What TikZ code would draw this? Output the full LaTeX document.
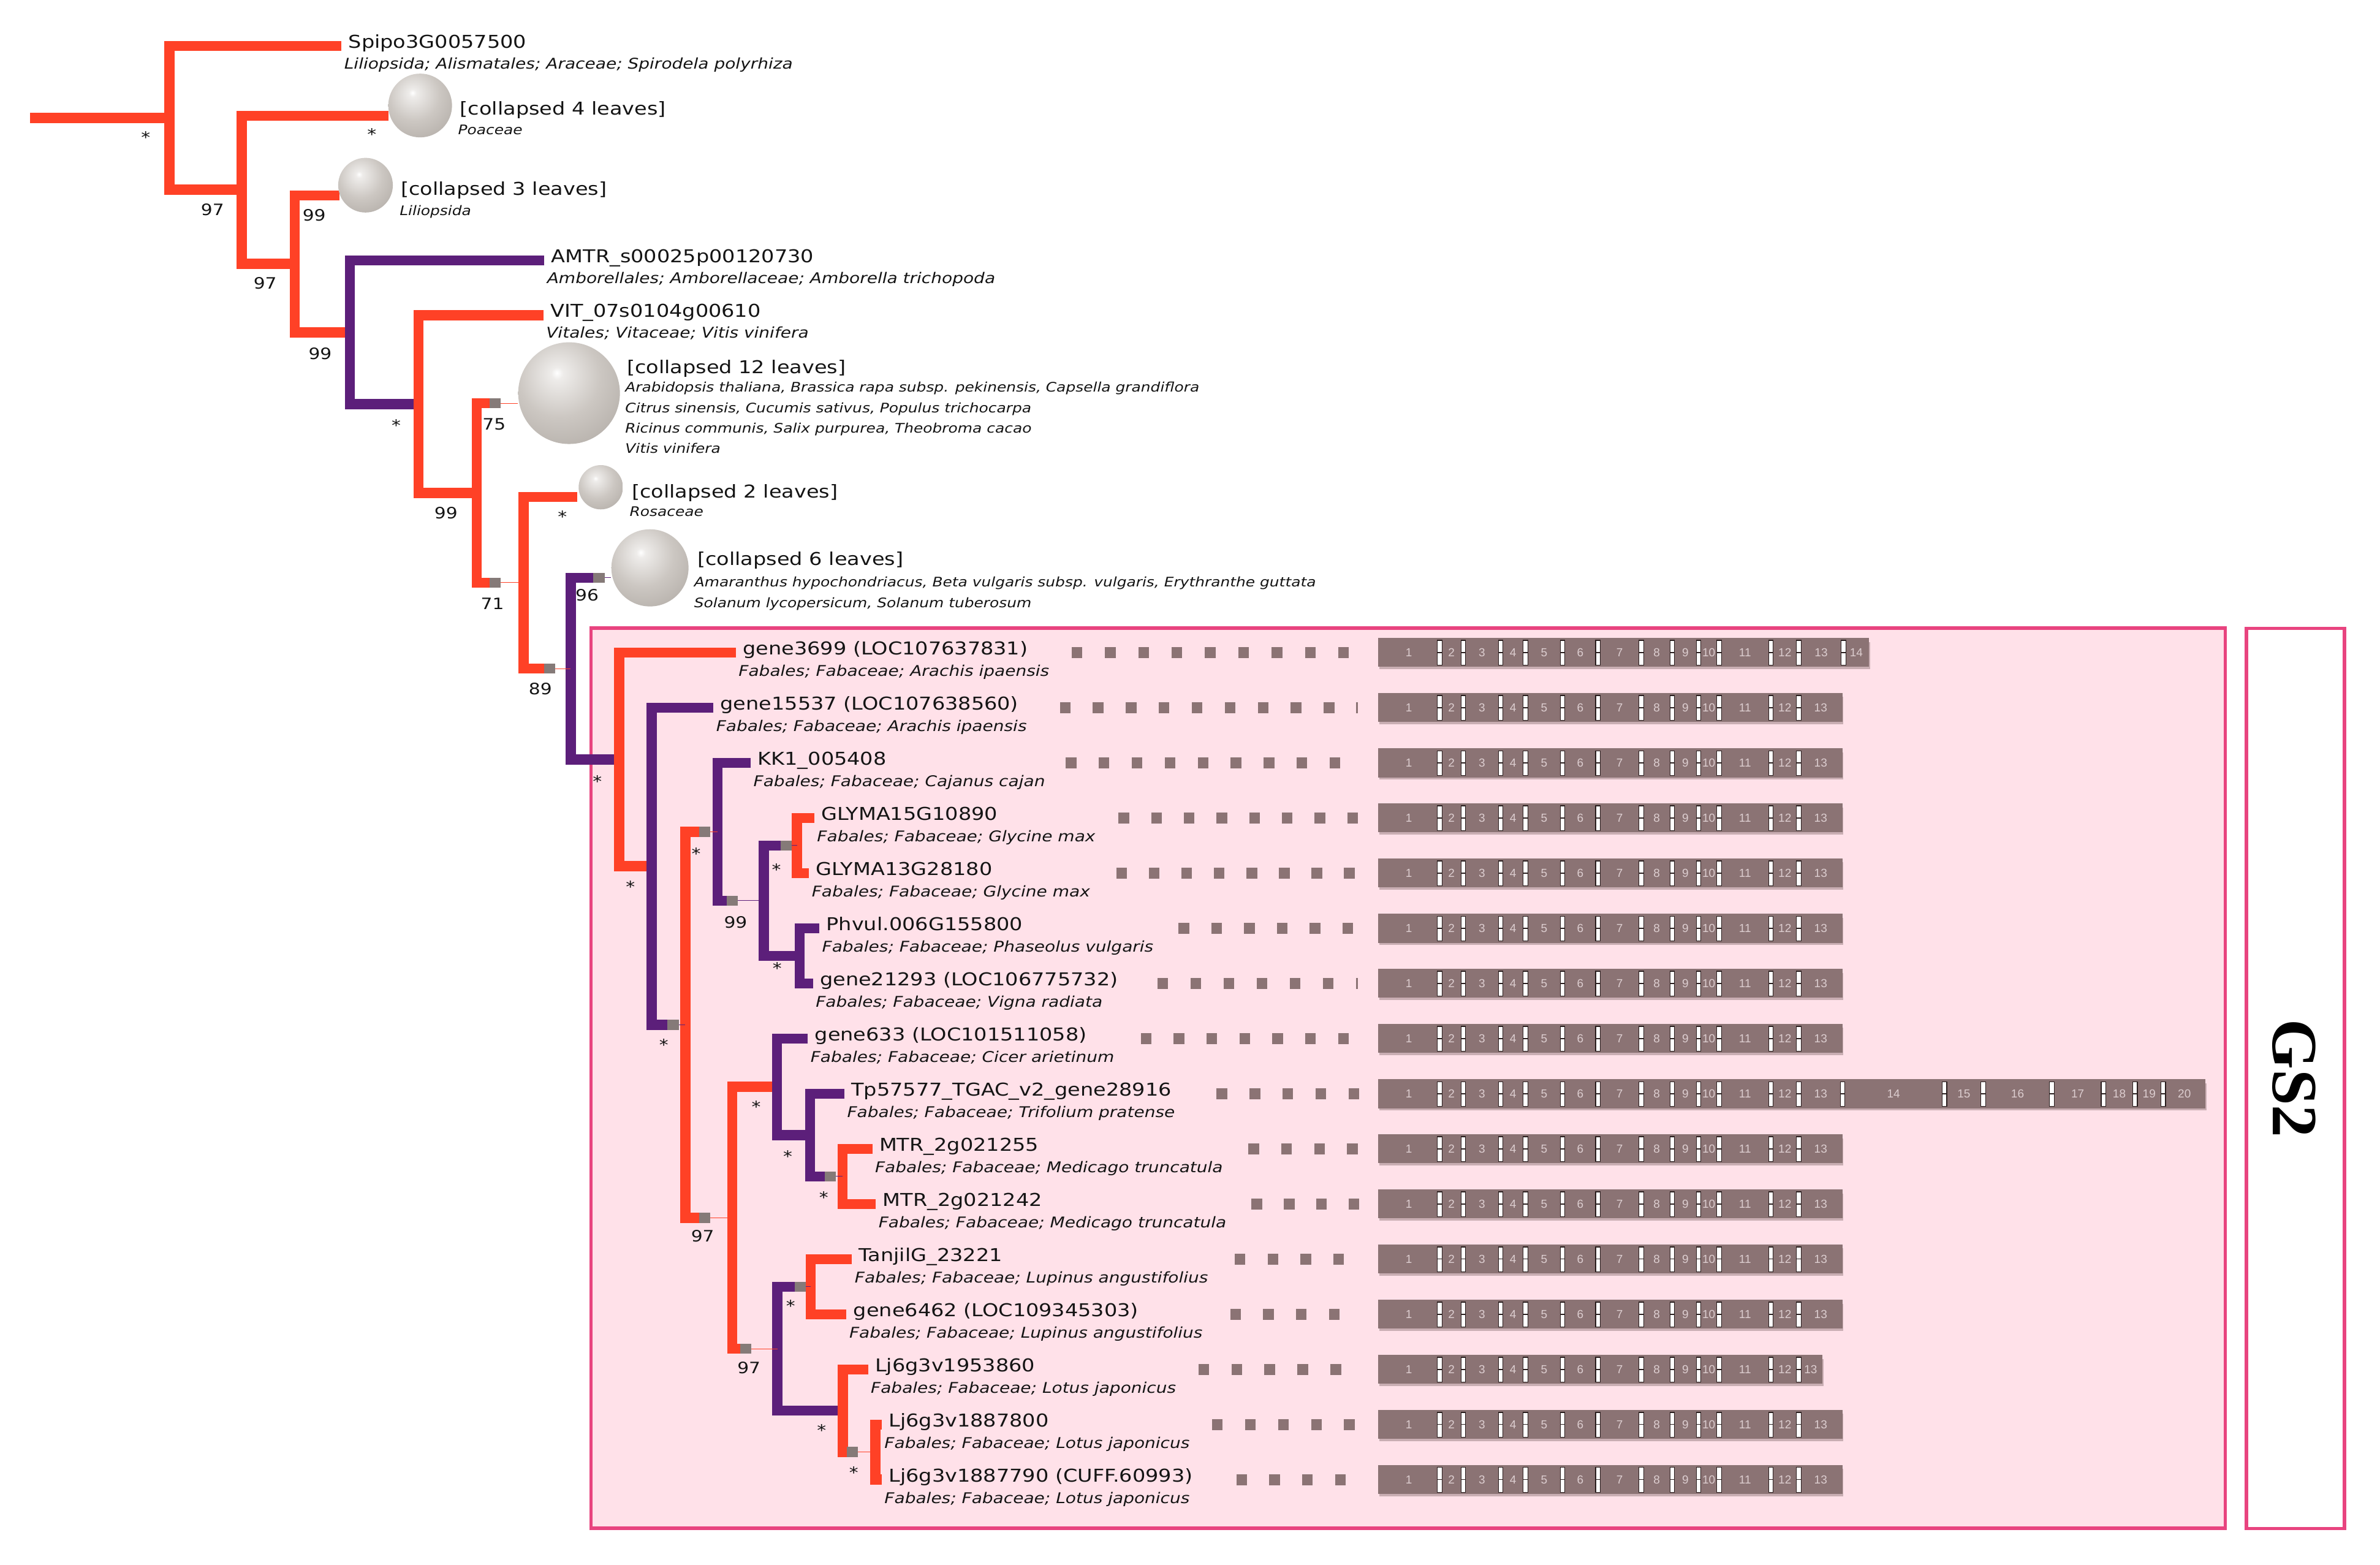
\documentclass[tikz,border=0pt]{standalone}
\usepackage{fontspec}
\setmainfont{DejaVu Sans}
\newfontfamily\namefont{DejaVu Sans}[FakeStretch=1.16]
\newfontfamily\spfont{DejaVu Sans Oblique}[FakeStretch=1.16]
\newfontfamily\gsfont{Liberation Serif Bold}
\newfontfamily\exfont{Liberation Sans}
\definecolor{brred}{HTML}{FF4126}
\definecolor{brpur}{HTML}{5C1F7A}
\definecolor{gend}{HTML}{857A78}
\definecolor{pinkfill}{HTML}{FFE1E9}
\definecolor{pinkline}{HTML}{E8447F}
\definecolor{barc}{HTML}{8B7374}
\definecolor{barsh}{HTML}{C9AEB3}
\definecolor{exnum}{HTML}{DCCDCF}
\definecolor{sepc}{HTML}{2A1E1E}
\definecolor{sphc}{RGB}{168,162,156}
\definecolor{sphm}{RGB}{204,199,194}
\definecolor{sphl}{RGB}{238,236,234}
\definecolor{txt}{HTML}{141414}
\pgfdeclareradialshading{sphere}{\pgfpoint{-6bp}{10bp}}{color(0bp)=(white); color(3bp)=(sphl); color(20bp)=(sphm); color(46bp)=(sphc); color(100bp)=(sphc)}
\newcommand{\dotrow}[4]{\foreach \k in {1,...,#4}{\fill[barc] ({#2+(\k-1)*#3-3.5},{#1-3.7}) rectangle ({#2+(\k-1)*#3+3.5},{#1+3.7});}}
\newcommand{\genebar}[4]{%
  \fill[barsh] (908.6,{#2-7}) rectangle ({#3+0.6},{#2+11});
  \fill[barc] (907.8,{#2-9.5}) rectangle (#3,{#2+9.5});
  \foreach \sv [remember=\sv as \pv (initially 907.8), count=\ix] in {948.5,964.0,988.6,1005.0,1029.5,1052.7,1081.3,1101.7,1119.0,1132.6,1166.7,1185.1,#4#3}{%
    \pgfmathtruncatemacro{\issep}{\sv<(#3-0.5)}%
    \ifnum\issep=1
      \filldraw[sepbox] ({\sv-1.5},{#2-8}) rectangle ({\sv+1.5},{#2+8.3});
      \draw[sepline] ({\sv-1.5},#2) -- ({\sv+1.5},#2);
    \fi
    \node[exn] (#1-\ix) at ({(\pv+\sv)/2},#2) {\ix};
  }%
}
\begin{document}
\begin{tikzpicture}[x=0.6pt,y=-0.6pt,
  brR/.style={draw=brred, line width=4pt, line join=miter, line cap=butt},
  brP/.style={draw=brpur, line width=4pt, line join=miter, line cap=butt},
  thinR/.style={draw=brred, line width=0.25pt},
  thinP/.style={draw=brpur, line width=0.25pt},
  sph/.style={circle, inner sep=0pt, shade, shading=sphere},
  lname/.style={anchor=base west, inner sep=0pt, text=txt, font=\namefont\fontsize{7}{8}\selectfont},
  lsp/.style={anchor=base west, inner sep=0pt, text=txt, font=\spfont\fontsize{5.85}{7}\selectfont},
  csp/.style={anchor=base west, inner sep=0pt, text=txt, font=\spfont\fontsize{5.2}{6}\selectfont},
  bs/.style={inner sep=0pt, text=txt, font=\namefont\fontsize{6.2}{7}\selectfont},
  exn/.style={inner sep=0pt, text=exnum, font=\exfont\fontsize{4.6}{5}\selectfont},
  sepbox/.style={fill=white, draw=sepc, line width=0.3pt},
  sepline/.style={draw=sepc, line width=0.35pt},
  gsbox/.style={draw=pinkline, line width=1.3pt}]
\useasboundingbox (0,0) rectangle (1568,1030.7);
\fill[white] (0,0) rectangle (1568,1030.7);
% boxes
\filldraw[gsbox, fill=pinkfill] (389.3,413.8) rectangle (1466,1006.8);
\filldraw[gsbox, fill=white] (1480,414) rectangle (1544.5,1007);
\node[rotate=-90, inner sep=0pt, font=\gsfont\fontsize{25.5}{26}\selectfont] (gs2) at (1511.5,710.5) {GS2};
% internal nodes
\coordinate (root) at (19.8,77.65);
\coordinate (n1) at (111.7,77.65);
\coordinate (n2) at (159.3,125);
\coordinate (n3) at (194.2,173.8);
\coordinate (n4) at (230.6,218.9);
\coordinate (n5) at (275.8,266.2);
\coordinate (n6) at (314,324.8);
\coordinate (n7) at (345,383.9);
\coordinate (n8) at (376,440.45);
\coordinate (n9) at (408,500.3);
\coordinate (n10) at (429.4,570.7);
\coordinate (n11) at (451.5,675.15);
\coordinate (n12) at (472.8,548);
\coordinate (n13) at (503.3,593.4);
\coordinate (n14) at (525.1,557.05);
\coordinate (n15) at (526.8,629.75);
\coordinate (n16) at (482.4,802.3);
\coordinate (n17) at (511.8,716);
\coordinate (n18) at (533.6,747.8);
\coordinate (n19) at (555,775.05);
\coordinate (n20) at (512.1,888.6);
\coordinate (n21) at (534,847.7);
\coordinate (n22) at (555.2,929.4);
\coordinate (n23) at (576.7,956.65);
% leaf ends
\coordinate (e0) at (225,30.3);
\coordinate (ec4) at (256,76.2);
\coordinate (ec3) at (223.5,128.7);
\coordinate (ea) at (358.6,171.6);
\coordinate (ev) at (358,207.6);
\coordinate (ec12) at (330,265.7);
\coordinate (ec2) at (380.3,327.4);
\coordinate (ec6) at (398.3,380.6);
\coordinate (e1) at (484.8,429.9);
\coordinate (e2) at (470,466.2);
\coordinate (e3) at (494.6,502.6);
\coordinate (e4) at (536.5,538.9);
\coordinate (e5) at (533,575.2);
\coordinate (e6) at (539.8,611.6);
\coordinate (e7) at (535.6,647.9);
\coordinate (e8) at (532.2,684.2);
\coordinate (e9) at (556.3,720.6);
\coordinate (e10) at (574.7,756.9);
\coordinate (e11) at (577,793.2);
\coordinate (e12) at (561.3,829.5);
\coordinate (e13) at (557.7,865.9);
\coordinate (e14) at (571.9,902.2);
\coordinate (e15) at (580.9,938.5);
\coordinate (e16) at (580.9,974.8);
% grey ends of inner branches
\coordinate (g7) at (330,383.9);
\coordinate (g8) at (365.9,440.45);
\coordinate (g11) at (447.2,675.15);
\coordinate (g12) at (467.9,548);
\coordinate (g16) at (467.9,802.3);
\coordinate (g13) at (486,593.4);
\coordinate (g14) at (521.6,557.05);
\coordinate (g20) at (495,888.6);
\coordinate (g19) at (550.6,775.05);
\coordinate (g21) at (530.8,847.7);
\coordinate (g23) at (565.2,956.65);
% branches
\draw[brR] (root) -- (n1);
\draw[brR] (e0) -| (n1) |- (n2);
\draw[brR] (ec4) -| (n2) |- (n3);
\draw[brR] (ec3) -| (n3) |- (n4);
\draw[brP] (ea) -| (n4) |- (n5);
\draw[brR] (ev) -| (n5) |- (n6);
\draw[brR] (ec12) -| (n6) |- (g7);
\draw[brR] (ec2) -| (n7) |- (g8);
\draw[brP] (ec6) -| (n8) |- (n9);
\draw[brR] (e1) -| (n9) |- (n10);
\draw[brP] (e2) -| (n10) |- (g11);
\draw[brR] (g12) -| (n11) |- (g16);
\draw[brP] (e3) -| (n12) |- (g13);
\draw[brP] (g14) -| (n13) |- (n15);
\draw[brR] (e4) -| (n14) |- (e5);
\draw[brP] (e6) -| (n15) |- (e7);
\draw[brR] (n17) -| (n16) |- (g20);
\draw[brP] (e8) -| (n17) |- (n18);
\draw[brP] (e9) -| (n18) |- (g19);
\draw[brR] (e10) -| (n19) |- (e11);
\draw[brP] (g21) -| (n20) |- (n22);
\draw[brR] (e12) -| (n21) |- (e13);
\draw[brR] (e14) -| (n22) |- (g23);
\draw[brR] (e15) -| (n23) |- (e16);
\foreach \g in {ec12,ec6,g7,g8,g11,g12,g16,g13,g14,g20,g19,g21,g23}{\fill[gend] ([shift={(-7.4,-3.33)}]\g) rectangle ([shift={(0,3.33)}]\g);}
% collapsed clades
\node[sph, minimum size=25.2pt] (c4) at (276.8,69.5) {};
\node[sph, minimum size=21.6pt] (c3) at (240.8,122) {};
\node[sph, minimum size=40.2pt] (c12) at (374.9,259) {};
\node[sph, minimum size=17.5pt] (c2) at (395.8,321) {};
\node[sph, minimum size=30.5pt] (c6) at (428.2,374.1) {};
% thin links
\draw[thinR] (ec12) -- (c12.west |- ec12);
\draw[thinP] (ec6) -- (c6.west |- ec6);
\draw[thinR] (g7) -- (n7);
\draw[thinR] (g8) -- (n8);
\draw[thinP] (g11) -- (n11);
\draw[thinR] (g12) -- (n12);
\draw[thinR] (g16) -- (n16);
\draw[thinP] (g13) -- (n13);
\draw[thinP] (g14) -- (n14);
\draw[thinR] (g20) -- (n20);
\draw[thinP] (g19) -- (n19);
\draw[thinP] (g21) -- (n21);
\draw[thinR] (g23) -- (n23);
% collapsed labels
\node[lname] (tc4) at (302.8,75.8) {[collapsed 4 leaves]};
\node[csp] (sc4) at (301.5,88.6) {Poaceae};
\node[lname] (tc3) at (263.8,128.7) {[collapsed 3 leaves]};
\node[csp] (sc3) at (263,141.7) {Liliopsida};
\node[lname] (tc12) at (412.7,246.1) {[collapsed 12 leaves]};
\node[csp] (sc12a) at (411.6,258.2) {Arabidopsis thaliana, Brassica rapa subsp. pekinensis, Capsella grandiflora};
\node[csp] (sc12b) at (411.6,271.7) {Citrus sinensis, Cucumis sativus, Populus trichocarpa};
\node[csp] (sc12c) at (411.6,285.2) {Ricinus communis, Salix purpurea, Theobroma cacao};
\node[csp] (sc12d) at (411.6,298.7) {Vitis vinifera};
\node[lname] (tc2) at (416,327.8) {[collapsed 2 leaves]};
\node[csp] (sc2) at (414.5,340.2) {Rosaceae};
\node[lname] (tc6) at (459.2,372.5) {[collapsed 6 leaves]};
\node[csp] (sc6a) at (457,386.7) {Amaranthus hypochondriacus, Beta vulgaris subsp. vulgaris, Erythranthe guttata};
\node[csp] (sc6b) at (457,400.2) {Solanum lycopersicum, Solanum tuberosum};
% leaf labels
\node[lname] (t0) at (229.3,31.8) {Spipo3G0057500};
\node[lsp] (s0) at (226.5,45.3) {Liliopsida; Alismatales; Araceae; Spirodela polyrhiza};
\node[lname] (ta) at (362.9,173.1) {AMTR\_s00025p00120730};
\node[lsp] (sa) at (360.1,186.6) {Amborellales; Amborellaceae; Amborella trichopoda};
\node[lname] (tv) at (362.3,209.1) {VIT\_07s0104g00610};
\node[lsp] (sv) at (359.5,222.6) {Vitales; Vitaceae; Vitis vinifera};
\node[lname] (t1) at (489.1,431.4) {gene3699 (LOC107637831)};
\node[lsp] (s1) at (486.3,445.4) {Fabales; Fabaceae; Arachis ipaensis};
\node[lname] (t2) at (474.3,467.7) {gene15537 (LOC107638560)};
\node[lsp] (s2) at (471.5,481.7) {Fabales; Fabaceae; Arachis ipaensis};
\node[lname] (t3) at (498.9,504.1) {KK1\_005408};
\node[lsp] (s3) at (496.1,518.1) {Fabales; Fabaceae; Cajanus cajan};
\node[lname] (t4) at (540.8,540.4) {GLYMA15G10890};
\node[lsp] (s4) at (538,554.4) {Fabales; Fabaceae; Glycine max};
\node[lname] (t5) at (537.3,576.7) {GLYMA13G28180};
\node[lsp] (s5) at (534.5,590.7) {Fabales; Fabaceae; Glycine max};
\node[lname] (t6) at (544.1,613.1) {Phvul.006G155800};
\node[lsp] (s6) at (541.3,627.1) {Fabales; Fabaceae; Phaseolus vulgaris};
\node[lname] (t7) at (539.9,649.4) {gene21293 (LOC106775732)};
\node[lsp] (s7) at (537.1,663.4) {Fabales; Fabaceae; Vigna radiata};
\node[lname] (t8) at (536.5,685.7) {gene633 (LOC101511058)};
\node[lsp] (s8) at (533.7,699.7) {Fabales; Fabaceae; Cicer arietinum};
\node[lname] (t9) at (560.6,722.1) {Tp57577\_TGAC\_v2\_gene28916};
\node[lsp] (s9) at (557.8,736.1) {Fabales; Fabaceae; Trifolium pratense};
\node[lname] (t10) at (579,758.4) {MTR\_2g021255};
\node[lsp] (s10) at (576.2,772.4) {Fabales; Fabaceae; Medicago truncatula};
\node[lname] (t11) at (581.3,794.7) {MTR\_2g021242};
\node[lsp] (s11) at (578.5,808.7) {Fabales; Fabaceae; Medicago truncatula};
\node[lname] (t12) at (565.6,831) {TanjilG\_23221};
\node[lsp] (s12) at (562.8,845) {Fabales; Fabaceae; Lupinus angustifolius};
\node[lname] (t13) at (562,867.4) {gene6462 (LOC109345303)};
\node[lsp] (s13) at (559.2,881.4) {Fabales; Fabaceae; Lupinus angustifolius};
\node[lname] (t14) at (576.2,903.7) {Lj6g3v1953860};
\node[lsp] (s14) at (573.4,917.7) {Fabales; Fabaceae; Lotus japonicus};
\node[lname] (t15) at (585.2,940) {Lj6g3v1887800};
\node[lsp] (s15) at (582.4,954) {Fabales; Fabaceae; Lotus japonicus};
\node[lname] (t16) at (585.2,976.3) {Lj6g3v1887790 (CUFF.60993)};
\node[lsp] (s16) at (582.4,990.3) {Fabales; Fabaceae; Lotus japonicus};
% support values
\node[bs] (b1) at (96,90.6) {*};
\node[bs] (b2) at (140,138) {97};
\node[bs] (b3) at (245,88.5) {*};
\node[bs] (b4) at (174.7,186.6) {97};
\node[bs] (b5) at (207,141.7) {99};
\node[bs] (b6) at (210.9,232.8) {99};
\node[bs] (b7) at (261,280) {*};
\node[bs] (b8) at (325.5,279.5) {75};
\node[bs] (b9) at (293.8,338) {99};
\node[bs] (b10) at (324.4,397.6) {71};
\node[bs] (b11) at (370.5,340.3) {*};
\node[bs] (b12) at (356,454) {89};
\node[bs] (b13) at (386.8,392) {96};
\node[bs] (b14) at (393.5,514.9) {*};
\node[bs] (b15) at (415.3,584.2) {*};
\node[bs] (b16) at (437.3,688.3) {*};
\node[bs] (b17) at (458.6,562.2) {*};
\node[bs] (b18) at (462.9,814.5) {97};
\node[bs] (b19) at (484.6,607.6) {99};
\node[bs] (b20) at (511.5,573) {*};
\node[bs] (b21) at (512,638) {*};
\node[bs] (b22) at (498.2,729.2) {*};
\node[bs] (b23) at (493.4,901.3) {97};
\node[bs] (b24) at (519,761.7) {*};
\node[bs] (b25) at (542.7,788.9) {*};
\node[bs] (b26) at (520.9,860.3) {*};
\node[bs] (b27) at (541.3,942.2) {*};
\node[bs] (b28) at (562.5,969.9) {*};
% gene structures
\dotrow{429.9}{709.5}{21.96}{9}
\dotrow{466.2}{701.7}{21.74}{9}
\fill[barc] (893.3,462.5) rectangle (894.8,469.9);
\dotrow{502.6}{705.6}{21.74}{9}
\dotrow{538.9}{740.4}{21.53}{8}
\dotrow{575.2}{739}{21.43}{8}
\dotrow{611.6}{780}{21.6}{6}
\dotrow{647.9}{766}{21.8}{6}
\fill[barc] (893.3,644.2) rectangle (894.8,651.6);
\dotrow{684.2}{755}{21.67}{7}
\dotrow{720.6}{805}{21.75}{5}
\dotrow{756.9}{826}{21.67}{4}
\dotrow{793.2}{828}{21.33}{4}
\dotrow{829.5}{817}{21.67}{4}
\dotrow{865.9}{814}{21.67}{4}
\dotrow{902.2}{793}{21.75}{5}
\dotrow{938.5}{802}{21.75}{5}
\dotrow{974.8}{818}{21.67}{4}
\genebar{x1}{429.9}{1231.4}{1214.5,}
\genebar{x2}{466.2}{1213.9}{}
\genebar{x3}{502.6}{1213.9}{}
\genebar{x4}{538.9}{1213.9}{}
\genebar{x5}{575.2}{1213.9}{}
\genebar{x6}{611.6}{1213.9}{}
\genebar{x7}{647.9}{1213.9}{}
\genebar{x8}{684.2}{1213.9}{}
\genebar{x9}{720.6}{1453.0}{1213.9,1281.1,1306.6,1351.8,1385.8,1406.6,1425.2,}
\genebar{x10}{756.9}{1213.9}{}
\genebar{x11}{793.2}{1213.9}{}
\genebar{x12}{829.5}{1213.9}{}
\genebar{x13}{865.9}{1213.9}{}
\genebar{x14}{902.2}{1200.7}{}
\genebar{x15}{938.5}{1213.9}{}
\genebar{x16}{974.8}{1213.9}{}
\end{tikzpicture}
\end{document}
